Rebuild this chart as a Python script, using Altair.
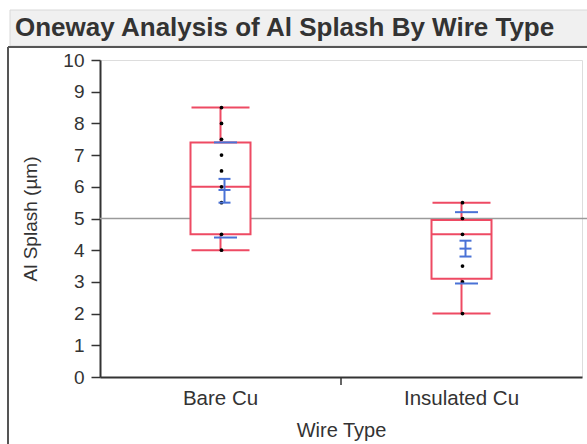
import altair as alt
import pandas as pd

# ---- data ----
categories = ["Bare Cu", "Insulated Cu"]
whisker_low = [4.0, 2.0]
q1 = [4.5, 3.1]
median = [6.0, 4.5]
q3 = [7.4, 4.95]
whisker_high = [8.5, 5.5]
mean = [5.9, 4.05]
ci_low = [5.5, 3.8]
ci_high = [6.25, 4.3]
sd_low = [4.4, 2.95]
sd_high = [7.4, 5.2]
grand_mean = [5.0]

bare_cu_points = [8.5, 8.0, 7.5, 7.0, 6.5, 6.0, 5.5, 4.5, 4.0]
insulated_cu_points = [5.5, 5.0, 4.5, 3.5, 3.0, 2.0]

y_ticks = list(range(0, 11))
chart_title = "Oneway Analysis of Al Splash By Wire Type"

# ---- tables ----
stats = pd.DataFrame({
    "type": categories, "wlo": whisker_low, "q1": q1, "med": median,
    "q3": q3, "whi": whisker_high, "mean": mean, "cilo": ci_low,
    "cihi": ci_high, "sdlo": sd_low, "sdhi": sd_high,
})
points = pd.DataFrame({
    "type": ["Bare Cu"] * len(bare_cu_points) + ["Insulated Cu"] * len(insulated_cu_points),
    "val": bare_cu_points + insulated_cu_points,
})
gm = pd.DataFrame({"gm": grand_mean})
one = pd.DataFrame({"t": [chart_title]})

RED = "#EE4A63"
BLUE = "#4A72D6"
FONT = "Liberation Sans"

W, H = 482, 317

xscale = alt.Scale(domain=categories, paddingInner=0, paddingOuter=0)
yscale = alt.Scale(domain=[0, 10], nice=False)

xaxis = alt.Axis(title="Wire Type", labelAngle=0, ticks=False,
                 labelFontSize=20.5, titleFontSize=20, labelPadding=11,
                 titlePadding=12, labelColor="#333", titleColor="#333",
                 domainColor="#333", domainWidth=2, labelFont=FONT,
                 titleFont=FONT, titleFontWeight="normal")
yaxis = alt.Axis(title="Al Splash (µm)", values=y_ticks, tickCount=11, tickSize=9,
                 tickColor="#333", tickWidth=1.5, domainColor="#333", domainWidth=2,
                 labelFontSize=19, titleFontSize=19, labelPadding=7, titlePadding=22,
                 labelColor="#333", titleColor="#333", labelFont=FONT, titleFont=FONT,
                 titleFontWeight="normal", grid=False, labelOverlap=False)


def X():
    return alt.X("type:N", scale=xscale, sort=categories, axis=xaxis)


def Y(field):
    return alt.Y(field, scale=yscale, axis=yaxis)


# decorations: title bar background, title text and outer frame
title_bar = alt.Chart(one).mark_rect(fill="#F0F0F0", stroke="#D8D8D8", strokeWidth=1).encode(
    x=alt.value(-90), x2=alt.value(490), y=alt.value(-50), y2=alt.value(-14))
title_txt = alt.Chart(one).mark_text(align="left", baseline="alphabetic", fontSize=26,
                                     fontWeight="bold", color="#333", font=FONT).encode(
    text="t:N", x=alt.value(-85), y=alt.value(-24))
frame_top = alt.Chart(one).mark_rule(color="#555", strokeWidth=2).encode(
    x=alt.value(-92), x2=alt.value(490), y=alt.value(-13))
frame_left = alt.Chart(one).mark_rule(color="#555", strokeWidth=2).encode(
    x=alt.value(-92), y=alt.value(-13), y2=alt.value(390))

base = alt.Chart(stats).encode(x=X())

ref = alt.Chart(gm).mark_rule(color="#9A9A9A", strokeWidth=1.5).encode(
    y=Y("gm:Q"), x=alt.value(0), x2=alt.value(W + 5))

box = base.mark_bar(size=60, fill="white", stroke=RED, strokeWidth=2).encode(
    y=Y("q1:Q"), y2="q3:Q")
wlo = base.mark_rule(color=RED, strokeWidth=2).encode(y=Y("wlo:Q"), y2="q1:Q")
whi = base.mark_rule(color=RED, strokeWidth=2).encode(y=Y("q3:Q"), y2="whi:Q")
cap_lo = base.mark_tick(size=58, thickness=2, color=RED, opacity=1).encode(y=Y("wlo:Q"))
cap_hi = base.mark_tick(size=58, thickness=2, color=RED, opacity=1).encode(y=Y("whi:Q"))
med = base.mark_tick(size=60, thickness=2, color=RED, opacity=1).encode(y=Y("med:Q"))

pts = alt.Chart(points).mark_circle(size=14, color="black", opacity=1, xOffset=1).encode(
    x=X(), y=Y("val:Q"))

sdl = base.mark_tick(size=23, thickness=2, color=BLUE, opacity=1, xOffset=5).encode(y=Y("sdlo:Q"))
sdh = base.mark_tick(size=23, thickness=2, color=BLUE, opacity=1, xOffset=5).encode(y=Y("sdhi:Q"))
ci = base.mark_rule(color=BLUE, strokeWidth=2, xOffset=4).encode(y=Y("cilo:Q"), y2="cihi:Q")
cil = base.mark_tick(size=12, thickness=2, color=BLUE, opacity=1, xOffset=4).encode(y=Y("cilo:Q"))
cih = base.mark_tick(size=12, thickness=2, color=BLUE, opacity=1, xOffset=4).encode(y=Y("cihi:Q"))
mn = base.mark_tick(size=12, thickness=2, color=BLUE, opacity=1, xOffset=4).encode(y=Y("mean:Q"))

sep = base.transform_filter(alt.datum.type == categories[0]).mark_rule(color="#333", strokeWidth=1.5).encode(
    x=alt.X("type:N", scale=xscale, sort=categories, bandPosition=1, axis=xaxis),
    y=alt.value(H), y2=alt.value(H + 8))

chart = alt.layer(
    title_bar, title_txt, frame_top, frame_left, ref, wlo, whi, box, cap_lo, cap_hi, med,
    pts, sdl, sdh, ci, cil, cih, mn, sep,
).properties(
    width=W, height=H,
    padding={"left": 100, "top": 60, "right": 5, "bottom": 67},
    autosize=alt.AutoSizeParams(type="none"),
).configure_view(stroke="#555", strokeWidth=1.5).configure(background="white")

chart.save("out.html", embed_options={"renderer": "svg", "actions": False})
